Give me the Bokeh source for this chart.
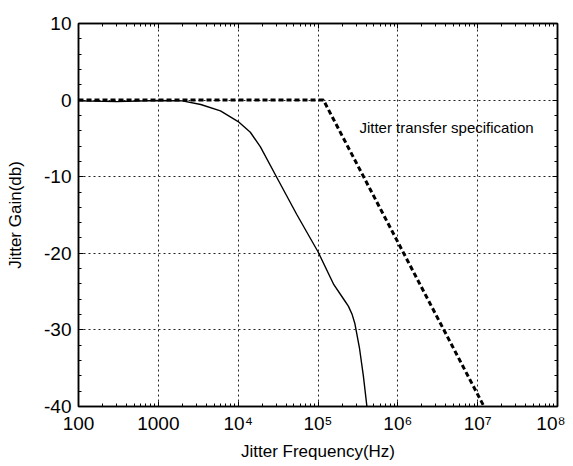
from bokeh.plotting import figure
from bokeh.models import (FixedTicker, LinearAxis, LogAxis, Range1d, Label)
from bokeh.embed import file_html
from bokeh.resources import INLINE

# Measured jitter transfer curve (Hz, dB)
meas_freq = [100, 300, 1000, 2000, 3400, 6000, 10000, 14200, 19000, 30500,
             54000, 100000, 158000, 210000, 240000, 268000, 290000, 310000,
             330000, 370000, 410000]
meas_gain = [-0.1, -0.2, -0.05, -0.1, -0.57, -1.4, -2.8, -4.2, -6.1, -10.1,
             -14.9, -19.8, -24.1, -26.0, -26.9, -28.0, -29.2, -30.8,
             -32.3, -36.0, -40.0]

# Jitter transfer specification (Hz, dB)
spec_freq = [100, 117000, 12000000]
spec_gain = [0, 0, -40]

x_ticks = [1e2, 1e3, 1e4, 1e5, 1e6, 1e7, 1e8]
x_tick_labels = ["100", "1000", "10\u2074", "10\u2075", "10\u2076", "10\u2077", "10\u2078"]
y_ticks = [-40, -30, -20, -10, 0, 10]
y_tick_labels = ["-40", "-30", "-20", "-10", "0", "10"]

FONT = "Liberation Sans"

p = figure(frame_width=479, frame_height=383, x_axis_type="log",
           x_range=Range1d(1e2, 1e8), y_range=Range1d(-40, 10),
           output_backend="svg", toolbar_location=None,
           min_border_left=78, min_border_top=23, min_border_right=8,
           min_border_bottom=52, background_fill_color="white",
           border_fill_color="white")
p.outline_line_color = "black"
p.outline_line_width = 1.5

x_minor = [m * 10 ** e for e in range(2, 8) for m in range(2, 10)]
y_minor = [v for v in range(-40, 11, 2)]

xt = FixedTicker(ticks=x_ticks, minor_ticks=x_minor)
yt = FixedTicker(ticks=y_ticks, minor_ticks=y_minor)

def style_axis(ax, labels=True):
    ax.axis_line_color = "black"
    ax.axis_line_width = 1.5
    ax.major_tick_in = 5
    ax.major_tick_out = 0
    ax.minor_tick_in = 3
    ax.minor_tick_out = 0
    ax.major_tick_line_color = "black"
    ax.minor_tick_line_color = "black"
    ax.major_tick_line_width = 1
    ax.minor_tick_line_width = 1
    ax.major_label_text_font = FONT
    ax.major_label_text_font_size = "19px" if labels else "0px"
    ax.major_label_text_color = "black"
    ax.axis_label_text_font = FONT
    ax.axis_label_text_font_size = "17px"
    ax.axis_label_text_font_style = "normal"
    ax.axis_label_text_color = "black"

xa = p.xaxis[0]
xa.ticker = xt
xa.major_label_overrides = {v: s for v, s in zip(x_ticks, x_tick_labels)}
xa.axis_label = "Jitter Frequency(Hz)"
xa.major_label_standoff = 6
xa.axis_label_standoff = 5
style_axis(xa)

ya = p.yaxis[0]
ya.ticker = yt
ya.major_label_overrides = {v: s for v, s in zip(y_ticks, y_tick_labels)}
ya.axis_label = "Jitter Gain(db)"
ya.major_label_standoff = 7
ya.axis_label_standoff = 16
style_axis(ya)

top = LogAxis(ticker=xt)
style_axis(top, labels=False)
top.major_label_overrides = {v: "" for v in x_ticks}
p.add_layout(top, "above")
right = LinearAxis(ticker=yt)
style_axis(right, labels=False)
right.major_label_overrides = {v: "" for v in y_ticks}
p.add_layout(right, "right")

p.xgrid.ticker = xt
p.ygrid.ticker = yt
for g in (p.xgrid[0], p.ygrid[0]):
    g.grid_line_color = "#222222"
    g.grid_line_dash = "2 3"
    g.grid_line_width = 1

p.line(meas_freq, meas_gain, line_color="black", line_width=1.4)
p.line(spec_freq, spec_gain, line_color="black", line_width=3, line_dash="5 3")

p.add_layout(Label(x=3.3e5, y=-3.6, text="Jitter transfer specification",
                   text_font=FONT, text_font_size="15px", text_color="black",
                   text_baseline="middle"))

open("out.html", "w").write(file_html(p, INLINE))
